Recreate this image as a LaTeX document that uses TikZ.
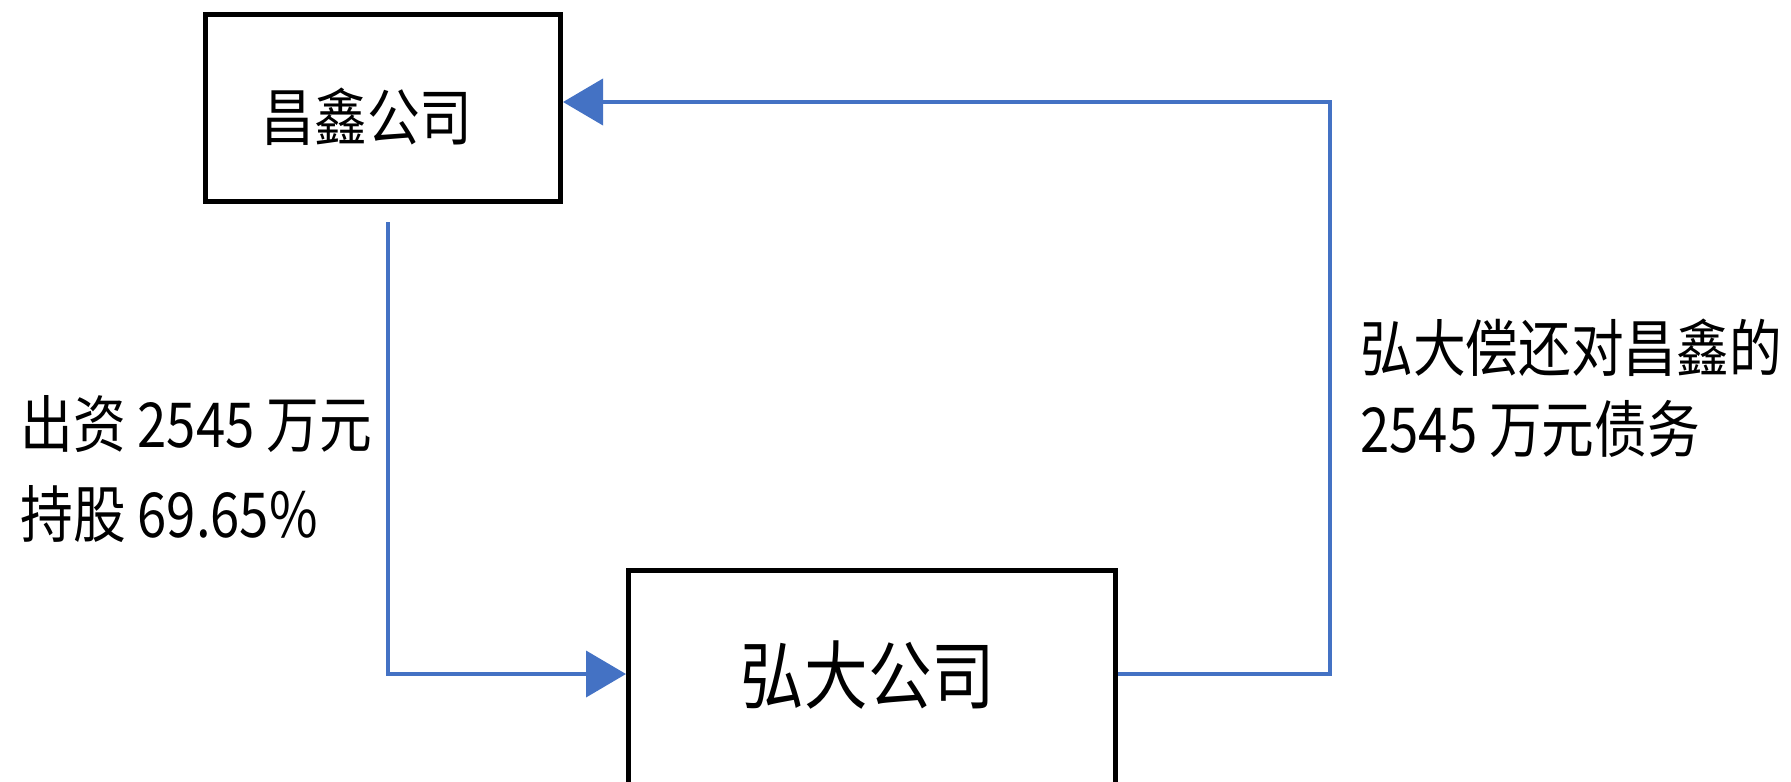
\documentclass[tikz,border=0pt]{standalone}
\usepackage{fontspec}
\newfontfamily\cjk[FakeStretch=0.85]{Noto Sans CJK SC}
\usetikzlibrary{arrows.meta}
\definecolor{connblue}{HTML}{4472C4}
\begin{document}
\begin{tikzpicture}[x=0.5pt,y=-0.5pt,
  box/.style={draw=black,line width=2.5pt,rectangle,inner sep=0pt,fill=white},
  lbl/.style={inner sep=0pt,anchor=base west,font=\cjk\fontsize{31pt}{37pt}\selectfont},
  link/.style={draw=connblue,line width=2pt,-{Triangle[length=20pt,width=23pt,fill=connblue]}}]
\useasboundingbox (0,0) rectangle (1791,781);
\node[box,minimum width=177.5pt,minimum height=93.5pt,font=\cjk\fontsize{31pt}{37pt}\selectfont] (A) at (383,108)
  {\hbox{\raisebox{-4.5pt}[\height][\depth]{昌鑫公司}\kern16pt}};
\node[box,minimum width=243.5pt,minimum height=114.75pt,font=\cjk\fontsize{37.4pt}{44pt}\selectfont] (B) at (872,685.25)
  {\hbox{\raisebox{5pt}[\height][\depth]{弘大公司}\kern4pt}};
\node[lbl] (L1) at (20,447) {出资 2545 万元};
\node[lbl] (L2) at (20,537) {持股 69.65\%};
\node[lbl] (R1) at (1360,371) {弘大偿还对昌鑫的};
\node[lbl] (R2) at (1360,452) {2545 万元债务};
\coordinate (s1) at (388,222);
\coordinate (k1) at (388,674);
\coordinate (k2) at (1330,674);
\coordinate (k3) at (1330,102);
\draw[link] (s1) -- (k1) -- (k1 -| B.west);
\draw[link] (k2 -| B.east) -- (k2) -- (k3) -- (k3 -| A.east);
\end{tikzpicture}
\end{document}
